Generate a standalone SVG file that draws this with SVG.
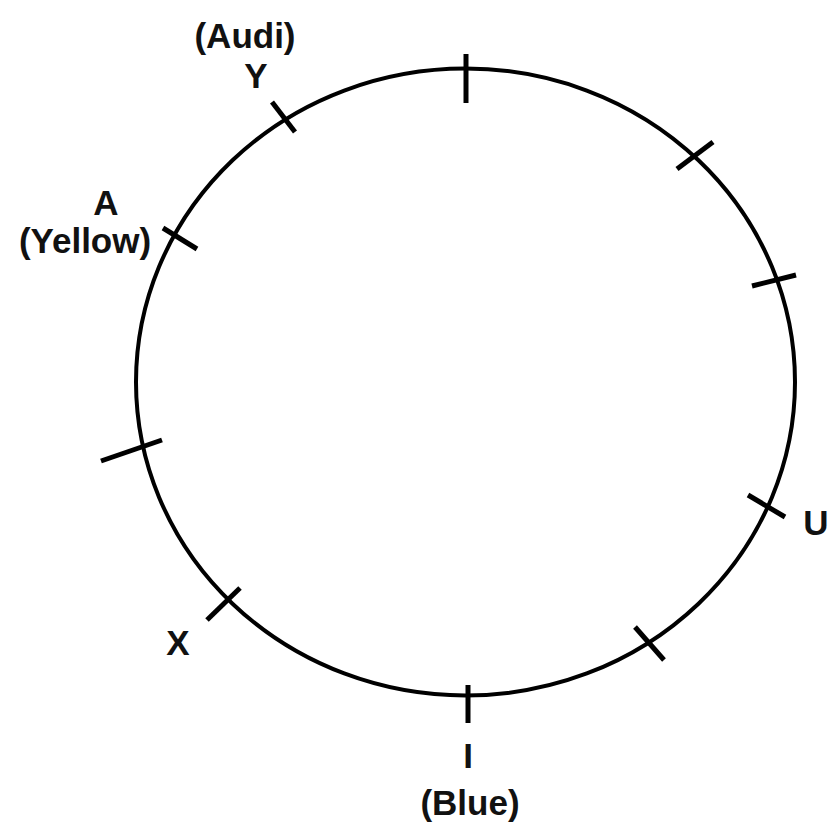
<svg xmlns="http://www.w3.org/2000/svg" width="830" height="829" viewBox="0 0 830 829">
<style>
.ring{fill:none;stroke:#000;stroke-width:4}
.tick{stroke:#000;stroke-width:5;stroke-linecap:butt}
.lbl{font-family:"Liberation Sans",Arial,sans-serif;font-weight:bold;font-size:35px;fill:#111;text-anchor:middle}
</style>
<rect width="830" height="829" fill="#fff"/>
<ellipse class="ring" cx="465.5" cy="382" rx="329.5" ry="313.5"/>
<g id="connectors">
<line class="tick" x1="466" y1="54" x2="466" y2="103"/>
<line class="tick" x1="677" y1="169" x2="713" y2="142"/>
<line class="tick" x1="752" y1="286" x2="796" y2="275"/>
<line class="tick" x1="748" y1="495" x2="785" y2="517"/>
<line class="tick" x1="635" y1="627" x2="664" y2="660"/>
<line class="tick" x1="468" y1="685" x2="468" y2="723"/>
<line class="tick" x1="207" y1="620" x2="240" y2="588"/>
<line class="tick" x1="101" y1="461" x2="162" y2="440"/>
<line class="tick" x1="163" y1="228" x2="197" y2="249"/>
<line class="tick" x1="272" y1="102" x2="295" y2="132"/>
</g>
<g id="node-Y"><text class="lbl" x="245" y="48">(Audi)</text><text class="lbl" x="256" y="88">Y</text></g>
<g id="node-A"><text class="lbl" x="106" y="215">A</text><text class="lbl" x="85" y="253">(Yellow)</text></g>
<g id="node-U"><text class="lbl" x="816" y="535">U</text></g>
<g id="node-X"><text class="lbl" x="178" y="655">X</text></g>
<g id="node-I"><text class="lbl" x="468" y="768">I</text><text class="lbl" x="470" y="815">(Blue)</text></g>
</svg>
